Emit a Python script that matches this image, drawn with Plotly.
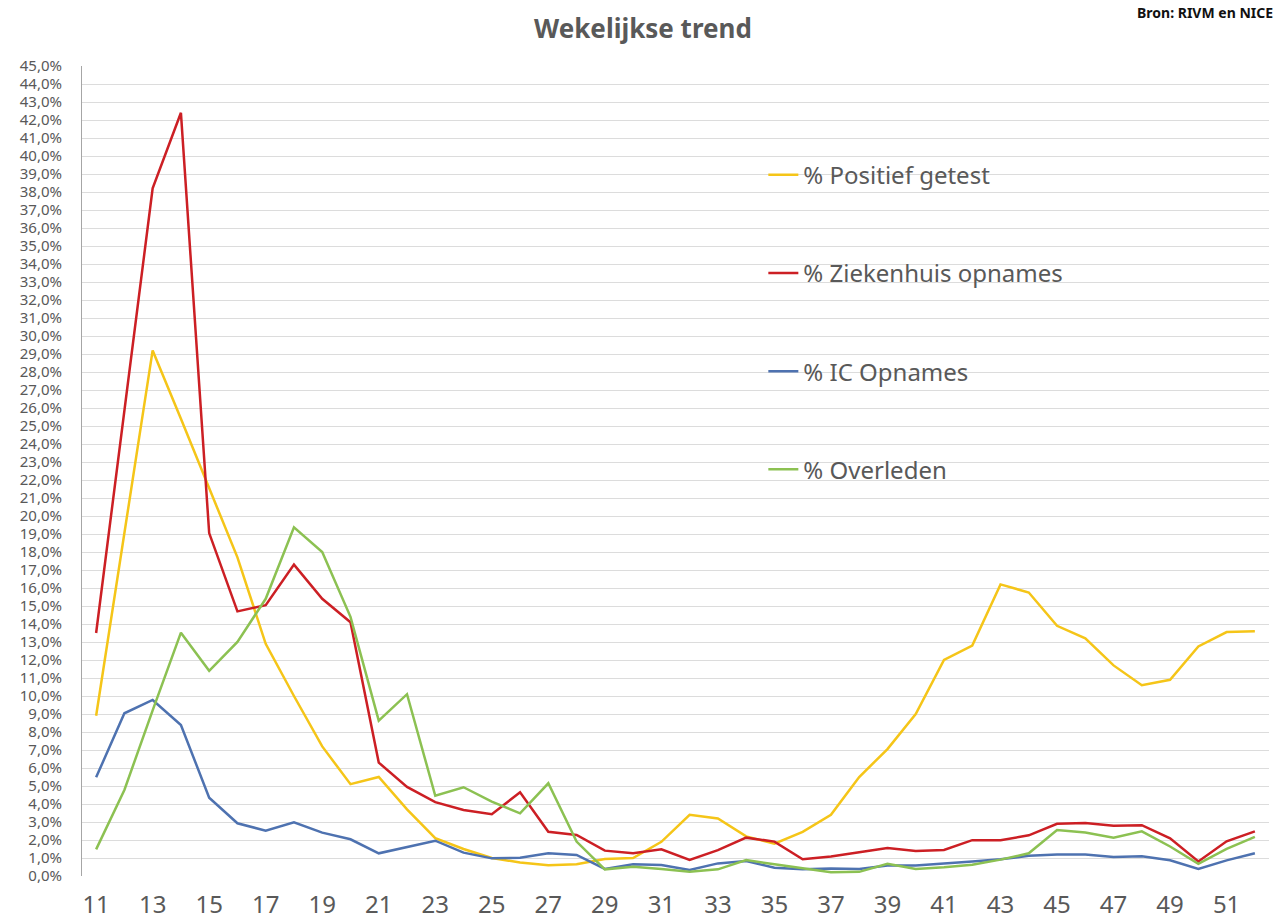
import plotly.graph_objects as go

weeks = [11, 12, 13, 14, 15, 16, 17, 18, 19, 20, 21, 22, 23, 24, 25, 26, 27, 28, 29, 30, 31,
         32, 33, 34, 35, 36, 37, 38, 39, 40, 41, 42, 43, 44, 45, 46, 47, 48, 49, 50, 51, 52]

positief = [8.9, 19.0, 29.2, 25.4, 21.6, 17.7, 12.9, 10.0, 7.2, 5.1, 5.5, 3.7, 2.1, 1.5, 1.0, 0.75,
            0.6, 0.65, 0.95, 1.0, 1.9, 3.4, 3.2, 2.2, 1.8, 2.45, 3.4, 5.5, 7.05, 9.0, 12.0, 12.8,
            16.2, 15.75, 13.9, 13.2, 11.7, 10.6, 10.9, 12.75, 13.55, 13.6]

ziekenhuis = [13.5, 25.8, 38.2, 42.4, 19.05, 14.7, 15.05, 17.3, 15.4, 14.1, 6.3, 4.95, 4.1, 3.67,
              3.43, 4.65, 2.46, 2.28, 1.41, 1.26, 1.48, 0.89, 1.44, 2.13, 1.91, 0.93, 1.08, 1.32,
              1.55, 1.39, 1.45, 1.99, 1.99, 2.26, 2.9, 2.94, 2.79, 2.82, 2.09, 0.81, 1.93, 2.48]

ic = [5.48, 9.04, 9.78, 8.39, 4.35, 2.93, 2.52, 2.98, 2.41, 2.04, 1.26, 1.59, 1.96, 1.30, 0.98,
      1.02, 1.26, 1.17, 0.39, 0.65, 0.61, 0.33, 0.70, 0.83, 0.46, 0.37, 0.41, 0.39, 0.58, 0.58,
      0.68, 0.81, 0.93, 1.12, 1.2, 1.2, 1.06, 1.1, 0.87, 0.39, 0.87, 1.26]

overleden = [1.48, 4.78, 9.2, 13.52, 11.4, 13.0, 15.4, 19.37, 18.0, 14.4, 8.63, 10.1, 4.46, 4.93,
             4.13, 3.48, 5.15, 1.91, 0.37, 0.52, 0.39, 0.24, 0.37, 0.89, 0.65, 0.43, 0.21, 0.23,
             0.68, 0.39, 0.48, 0.62, 0.91, 1.26, 2.55, 2.42, 2.13, 2.48, 1.64, 0.68, 1.51, 2.17]

series_names = ["% Positief getest", "% Ziekenhuis opnames", "% IC Opnames", "% Overleden"]
series_values = [positief, ziekenhuis, ic, overleden]
series_colors = ["#F5C518", "#CC1F24", "#4E72B0", "#8CC152"]

title_text = "Wekelijkse trend"
source_text = "Bron: RIVM en NICE"

FONT = "Noto Sans"
GRAY = "#595959"

fig = go.Figure()
for i, (name, vals, col) in enumerate(zip(series_names, series_values, series_colors)):
    fig.add_trace(go.Scatter(
        x=weeks, y=vals, mode="lines", name=name,
        line=dict(color=col, width=2.5),
        legendgroup=f"g{i}",
    ))

fig.update_layout(
    width=1286, height=924,
    margin=dict(l=82, r=17, t=66, b=48, autoexpand=False),
    paper_bgcolor="white", plot_bgcolor="white",
    separators=",.",
    font=dict(family=FONT, color=GRAY),
    title=dict(text=f"<b>{title_text}</b>", x=0.5, xanchor="center", y=0.969, yanchor="middle",
               font=dict(family=FONT, size=26, color=GRAY)),
    showlegend=True,
    legend=dict(
        x=0.574, y=0.893, xanchor="left", yanchor="top",
        bgcolor="rgba(0,0,0,0)",
        font=dict(family=FONT, size=24, color=GRAY),
        traceorder="grouped", tracegroupgap=64,
        itemwidth=30,
    ),
    xaxis=dict(
        range=[10.5, 52.5], tick0=11, dtick=2, showgrid=False, zeroline=False,
        showline=False, ticks="", ticklabelstandoff=12, automargin=False,
        tickfont=dict(family=FONT, size=24, color=GRAY),
    ),
    yaxis=dict(
        range=[0, 45], dtick=1, tickformat=".1f", ticksuffix="%",
        showgrid=True, gridcolor="#DCDCDC", gridwidth=1, zeroline=False,
        showline=True, linecolor="#A6A6A6", linewidth=1, ticks="", automargin=False,
        ticklabelstandoff=16,
        tickfont=dict(family=FONT, size=15, color=GRAY),
    ),
    annotations=[dict(
        text=f"<b>{source_text}</b>", xref="paper", yref="paper",
        x=1.0 + 6 / 1187, y=1.0 + 54 / 810, xanchor="right", yanchor="middle", showarrow=False,
        font=dict(family=FONT, size=14, color="#111111"),
    )],
)

fig.write_html("out.html", config={"displayModeBar": False},
               post_script="document.body.style.margin='0px';")
